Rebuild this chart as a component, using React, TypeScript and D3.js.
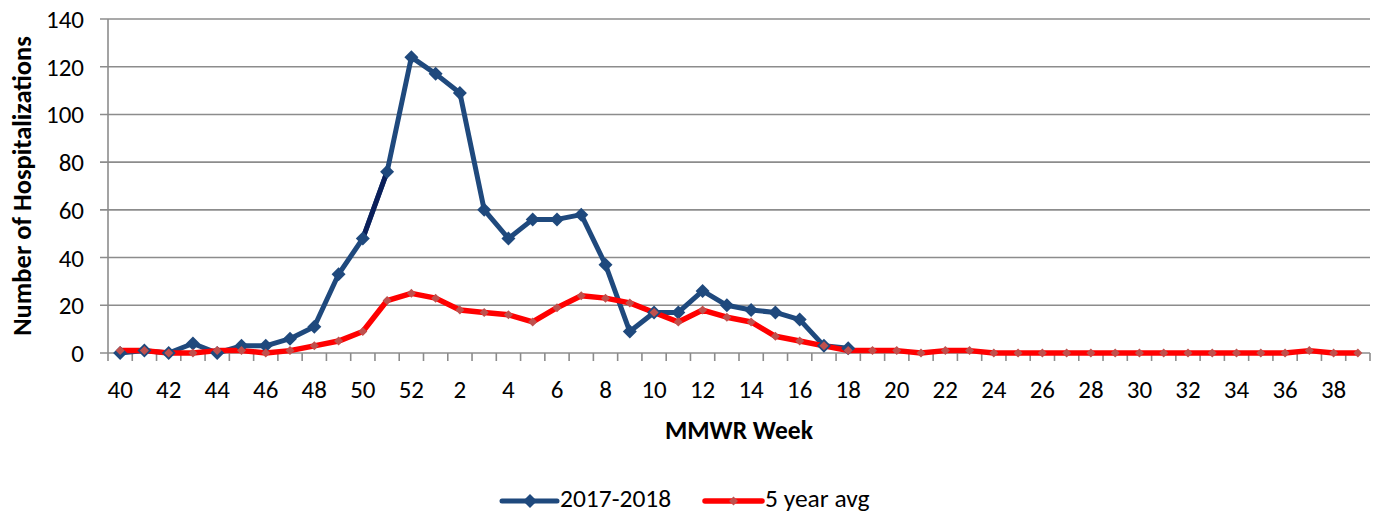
import * as d3 from "d3";

const WIDTH = 1376;
const HEIGHT = 516;
const FONT = "Calibri, Carlito, Lato, sans-serif";

// MMWR weeks 40..52 then 1..39
const weeks = [
  "40", "41", "42", "43", "44", "45", "46", "47", "48", "49", "50", "51", "52",
  "1", "2", "3", "4", "5", "6", "7", "8", "9", "10", "11", "12", "13", "14",
  "15", "16", "17", "18", "19", "20", "21", "22", "23", "24", "25", "26", "27",
  "28", "29", "30", "31", "32", "33", "34", "35", "36", "37", "38", "39",
];

// 2017-2018 season (reported through week 18)
const season = [
  0, 1, 0, 4, 0, 3, 3, 6, 11, 33, 48, 76, 124,
  117, 109, 60, 48, 56, 56, 58, 37, 9, 17, 17, 26, 20, 18,
  17, 14, 3, 2,
];

// 5 year average
const avg5 = [
  1, 1, 0, 0, 1, 1, 0, 1, 3, 5, 9, 22, 25,
  23, 18, 17, 16, 13, 19, 24, 23, 21, 17, 13, 18, 15, 13,
  7, 5, 3, 1, 1, 1, 0, 1, 1, 0, 0, 0, 0,
  0, 0, 0, 0, 0, 0, 0, 0, 0, 1, 0, 0,
];

const yTicks = [0, 20, 40, 60, 80, 100, 120, 140];
const darkSegment = ["50", "51"];

const BLUE = "#1F497D";
const DARK = "#0A1F5A";
const RED = "#FF0000";
const RED_MARK = "#C0504D";
const GRID = "#8C8C8C";

const diamond = (r) => `M0,${-r}L${r},0L0,${r}L${-r},0Z`;

export default function App() {
  const margin = { top: 19, right: 6, bottom: 163, left: 108 };
  const innerW = WIDTH - margin.left - margin.right;
  const innerH = HEIGHT - margin.top - margin.bottom;

  const x = d3.scaleBand().domain(weeks).range([0, innerW]);
  const y = d3.scaleLinear().domain([0, 140]).range([innerH, 0]);
  const cx = (w) => x(w) + x.bandwidth() / 2;

  const seasonPts = season.map((v, i) => ({ w: weeks[i], v }));
  const avgPts = avg5.map((v, i) => ({ w: weeks[i], v }));
  const darkPts = seasonPts.filter((d) => darkSegment.includes(d.w));

  const line = d3
    .line()
    .x((d) => cx(d.w))
    .y((d) => y(d.v));

  const boundaries = d3.range(weeks.length + 1).map((i) => i * x.step());

  const legendY = 501;

  return (
    <svg
      width={WIDTH}
      height={HEIGHT}
      style={{ position: "absolute", left: 0, top: 0, background: "#fff" }}
      fontFamily={FONT}
    >
      <g transform={`translate(${margin.left},${margin.top})`}>
        {/* gridlines + y ticks */}
        {yTicks.map((t) => (
          <g key={t} transform={`translate(0,${y(t)})`}>
            <line x1={-8} x2={innerW} stroke={GRID} strokeWidth={1.6} />
            <text
              x={-24}
              dy="0.36em"
              textAnchor="end"
              fontSize={25}
              fill="#000"
            >
              {t}
            </text>
          </g>
        ))}

        {/* axes */}
        <line x1={0} x2={0} y1={0} y2={innerH} stroke={GRID} strokeWidth={1.6} />
        {boundaries.map((b, i) => (
          <line
            key={i}
            x1={b}
            x2={b}
            y1={innerH}
            y2={innerH + 8}
            stroke={GRID}
            strokeWidth={1.6}
          />
        ))}

        {/* x tick labels, every other week */}
        {weeks.map((w, i) =>
          i % 2 === 0 ? (
            <text
              key={w}
              x={cx(w)}
              y={innerH + 36}
              dy="0.36em"
              textAnchor="middle"
              fontSize={25}
              fill="#000"
            >
              {w}
            </text>
          ) : null
        )}

        {/* axis titles */}
        <text
          x={innerW / 2}
          y={innerH + 77}
          dy="0.36em"
          textAnchor="middle"
          fontSize={25.5}
          fontWeight="bold"
        >
          MMWR Week
        </text>
        <text
          transform={`translate(${21 - margin.left},${186 - margin.top}) rotate(-90)`}
          dy="0.36em"
          textAnchor="middle"
          fontSize={26.5}
          fontWeight="bold"
        >
          Number of Hospitalizations
        </text>

        {/* series lines */}
        <path
          d={line(seasonPts)}
          fill="none"
          stroke={BLUE}
          strokeWidth={5}
          strokeLinejoin="round"
        />
        <path
          d={line(darkPts)}
          fill="none"
          stroke={DARK}
          strokeWidth={5}
          strokeLinecap="round"
        />
        <path
          d={line(avgPts)}
          fill="none"
          stroke={RED}
          strokeWidth={5.5}
          strokeLinejoin="round"
        />

        {/* markers */}
        {seasonPts.map((d) => (
          <path
            key={"s" + d.w}
            d={diamond(7)}
            transform={`translate(${cx(d.w)},${y(d.v)})`}
            fill={BLUE}
          />
        ))}
        {avgPts.map((d) => (
          <path
            key={"a" + d.w}
            d={diamond(4.5)}
            transform={`translate(${cx(d.w)},${y(d.v)})`}
            fill={RED_MARK}
          />
        ))}
      </g>

      {/* legend */}
      <g transform={`translate(502,${legendY})`}>
        <line x1={0} x2={55} stroke={BLUE} strokeWidth={5} strokeLinecap="round" />
        <path d={diamond(7)} transform="translate(28,0)" fill={BLUE} />
        <text x={58} y={6} fontSize={25.5}>
          2017-2018
        </text>
      </g>
      <g transform={`translate(705,${legendY})`}>
        <line x1={0} x2={57} stroke={RED} strokeWidth={5.5} strokeLinecap="round" />
        <path d={diamond(4.5)} transform="translate(28.5,0)" fill={RED_MARK} />
        <text x={60} y={6} fontSize={25.5}>
          5 year avg
        </text>
      </g>
    </svg>
  );
}
